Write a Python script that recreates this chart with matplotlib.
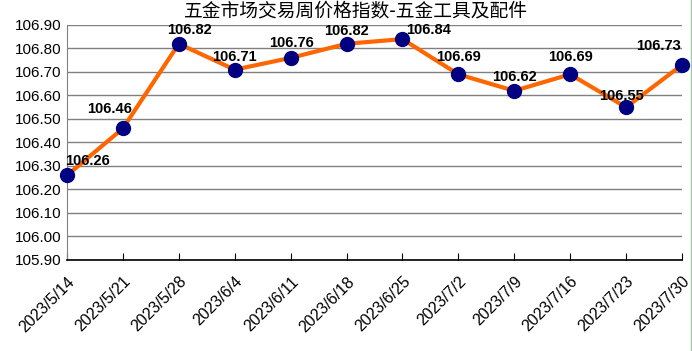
import matplotlib.pyplot as plt

plt.rcParams['font.family'] = ['Liberation Sans', 'Noto Sans CJK SC', 'DejaVu Sans']

dates = ['2023/5/14', '2023/5/21', '2023/5/28', '2023/6/4', '2023/6/11', '2023/6/18',
         '2023/6/25', '2023/7/2', '2023/7/9', '2023/7/16', '2023/7/23', '2023/7/30']
values = [106.26, 106.46, 106.82, 106.71, 106.76, 106.82,
          106.84, 106.69, 106.62, 106.69, 106.55, 106.73]
yticks = [105.90, 106.00, 106.10, 106.20, 106.30, 106.40, 106.50,
          106.60, 106.70, 106.80, 106.90]
title = '五金市场交易周价格指数-五金工具及配件'

# label offsets in pixels
offsets = [(21, 14), (-13, 19), (11, 14), (0, 13), (1, 15), (0, 13),
           (26, 9), (0, 17), (0, 14), (0, 17), (-5, 11), (-23, 19)]

fig = plt.figure(figsize=(6.92, 3.51), dpi=100)
ax = fig.add_axes([0.0968, 0.2593, 0.8887, 0.6695])

x = list(range(len(dates)))
ax.plot(x, values, color='#FF6600', lw=3, zorder=3)
ax.plot(x, values, 'o', color='#000080', ms=10, zorder=4)

for xi, v, (dx, dy) in zip(x, values, offsets):
    ax.annotate(f'{v:.2f}', (xi, v), xytext=(dx, dy), textcoords='offset pixels',
                ha='center', va='center', fontsize=10.5, fontweight='semibold',
                color='black', zorder=5)

ax.set_xlim(0, len(dates) - 1)
ax.set_ylim(105.90, 106.90)
ax.set_yticks(yticks)
ax.set_yticklabels([f'{t:.2f}' for t in yticks], fontsize=11)
ax.set_xticks(x)
ax.set_xticklabels(dates, rotation=45, ha='right', rotation_mode='anchor', fontsize=11.5)
ax.tick_params(axis='y', length=0, pad=4)
ax.tick_params(axis='x', direction='in', length=5, color='black', pad=10)

ax.grid(axis='y', color='#808080', lw=1)
ax.set_axisbelow(True)
for s in ['top', 'right']:
    ax.spines[s].set_visible(False)
ax.spines['left'].set_color('#808080')
ax.spines['bottom'].set_color('black')
ax.spines['bottom'].set_linewidth(1.2)
for line in ax.lines:
    line.set_clip_on(False)

fig.text(0.514, 0.97, title, ha='center', va='center', fontsize=13.5,
         family=['Noto Sans CJK SC', 'DejaVu Sans'])

# thin green border on the right edge
fig.add_artist(plt.Line2D([0.998, 0.998], [0, 1], color='#9BCB9B', lw=1))

fig.savefig('out.png', dpi=100)
